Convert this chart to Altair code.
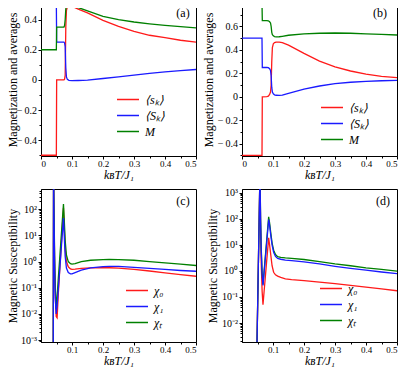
import altair as alt
import pandas as pd

SERIF = "Liberation Serif"
RED, BLUE, GREEN = "#ff1a1a", "#1a1aff", "#008000"

# ---------------- panel (a) ----------------
a_x = [0.0, 0.0495, 0.0505, 0.074, 0.076, 0.078, 0.080, 0.082, 0.085, 0.09, 0.1, 0.12,
       0.15, 0.2, 0.25, 0.3, 0.35, 0.4, 0.45, 0.5]
a_s = [-0.5, -0.5, 0.0, 0.0, 0.005, 0.03, 0.35, 0.46, 0.485, 0.492, 0.488, 0.47,
       0.445, 0.395, 0.355, 0.322, 0.296, 0.28, 0.263, 0.25]
a_S = [0.5, 0.5, 0.25, 0.25, 0.245, 0.22, 0.08, 0.02, 0.003, -0.003, -0.005, -0.004,
       -0.002, 0.009, 0.02, 0.031, 0.043, 0.053, 0.062, 0.069]
a_M = [0.2, 0.2, 0.35, 0.35, 0.36, 0.40, 0.47, 0.49, 0.495, 0.497, 0.493, 0.48,
       0.458, 0.422, 0.4, 0.384, 0.372, 0.362, 0.353, 0.345]

# ---------------- panel (b) ----------------
b_x = [0.0, 0.0645, 0.0655, 0.080, 0.085, 0.089, 0.092, 0.094, 0.096, 0.098, 0.101, 0.105,
       0.11, 0.12, 0.13, 0.15, 0.2, 0.25, 0.3, 0.35, 0.4, 0.45, 0.5]
b_s = [-0.5, -0.5, 0.0, 0.002, 0.006, 0.02, 0.04, 0.1, 0.3, 0.42, 0.452, 0.462,
       0.466, 0.466, 0.462, 0.44, 0.37, 0.305, 0.255, 0.22, 0.193, 0.175, 0.164]
b_S = [0.5, 0.5, 0.25, 0.25, 0.248, 0.24, 0.225, 0.18, 0.08, 0.04, 0.025, 0.017,
       0.013, 0.012, 0.015, 0.03, 0.065, 0.092, 0.112, 0.124, 0.132, 0.137, 0.14]
b_M = [0.8, 0.8, 0.65, 0.65, 0.648, 0.64, 0.63, 0.6, 0.55, 0.53, 0.52, 0.514,
       0.511, 0.512, 0.516, 0.525, 0.537, 0.542, 0.544, 0.542, 0.537, 0.532, 0.527]

# ---------------- panel (c)  (log10 of susceptibility) ----------------
c_x = [0.01, 0.035, 0.0395, 0.0405, 0.042, 0.044, 0.046, 0.049, 0.052, 0.056, 0.060,
       0.064, 0.068, 0.0725, 0.075, 0.078, 0.082, 0.088, 0.095, 0.1, 0.11, 0.13, 0.16,
       0.2, 0.22, 0.25, 0.3, 0.35, 0.4, 0.45, 0.5]
c_chi0 = [-9, -5, -3.5, 3.5, 1.8, -0.1, -1.3, -2.1, -2.15, -1.2, -0.42, 0.37, 1.16, 2.04,
          1.3, 0.5, 0.0, -0.2, -0.28, -0.3, -0.29, -0.26, -0.24, -0.23, -0.235, -0.25,
          -0.3, -0.36, -0.43, -0.5, -0.56]
c_chi1 = [-9, -5, -3.5, 3.5, 1.7, -0.3, -1.4, -2.0, -1.68, -1.03, -0.38, 0.27, 0.93, 1.66,
          1.0, 0.2, -0.25, -0.42, -0.47, -0.47, -0.42, -0.33, -0.24, -0.19, -0.18, -0.185,
          -0.22, -0.26, -0.3, -0.34, -0.37]
c_chit = [-9, -5, -3.5, 3.5, 2.0, 0.2, -1.0, -1.82, -1.31, -0.62, 0.06, 0.75, 1.43, 2.2,
          1.6, 0.8, 0.25, 0.0, -0.08, -0.1, -0.08, 0.0, 0.05, 0.075, 0.08, 0.075, 0.05,
          0.0, -0.05, -0.1, -0.15]

# ---------------- panel (d)  (log10 of susceptibility) ----------------
d_x = [0.01, 0.04, 0.047, 0.058, 0.060, 0.062, 0.065, 0.0677, 0.071, 0.075, 0.079, 0.083,
       0.086, 0.089, 0.093, 0.097, 0.102, 0.108, 0.115, 0.125, 0.14, 0.16, 0.2, 0.25, 0.3,
       0.35, 0.4, 0.45, 0.5]
d_chi0 = [-9, -5, -3.7, 3.8, 1.6, 0.3, -0.8, -1.3, -0.83, -0.27, 0.3, 0.85, 1.27, 1.0, 0.6,
          0.2, -0.05, -0.15, -0.2, -0.25, -0.3, -0.33, -0.37, -0.43, -0.49, -0.55, -0.62,
          -0.69, -0.76]
d_chi1 = [-9, -5, -3.7, 3.8, 1.9, 0.8, -0.15, -0.56, -0.1, 0.45, 1.0, 1.55, 1.98, 1.75,
          1.35, 1.0, 0.72, 0.56, 0.48, 0.45, 0.42, 0.40, 0.35, 0.27, 0.18, 0.1, 0.03,
          -0.04, -0.1]
d_chit = [-9, -5, -3.7, 3.8, 2.0, 0.9, -0.1, -0.52, -0.05, 0.52, 1.09, 1.66, 2.08, 1.85,
          1.45, 1.08, 0.8, 0.63, 0.55, 0.52, 0.5, 0.48, 0.44, 0.36, 0.27, 0.2, 0.12, 0.06,
          -0.01]

MAG_NAMES = ["⟨sₖ⟩", "⟨Sₖ⟩", "M"]
CHI_NAMES = ["χ₀", "χ₁", "χₜ"]
COLORS = [RED, BLUE, GREEN]

# tick positions
X_MAJOR_AB = [0, 0.1, 0.2, 0.3, 0.4, 0.5]
X_MAJOR_CD = [0.1, 0.2, 0.3, 0.4, 0.5]
X_MINOR = [0.05, 0.15, 0.25, 0.35, 0.45]
A_Y_MAJOR = [-0.4, -0.2, 0, 0.2, 0.4]
A_Y_MINOR = [-0.5, -0.3, -0.1, 0.1, 0.3, 0.5]
B_Y_MAJOR = [-0.4, -0.2, 0, 0.2, 0.4, 0.6, 0.8]
B_Y_MINOR = [-0.5, -0.3, -0.1, 0.1, 0.3, 0.5, 0.7]
C_Y_MAJOR = [0.001, 0.01, 0.1, 1, 10, 100]
D_Y_MAJOR = [0.01, 0.1, 1, 10, 100, 1000]
LOG_MINOR = [m * 10.0 ** k for k in range(-4, 4) for m in (2, 3, 4, 5, 6, 7, 8, 9)]

SUP = {-3: "⁻³", -2: "⁻²", -1: "⁻¹", 0: "⁰", 1: "¹", 2: "²", 3: "³"}
E = "round(log(datum.value)/LN10)"
LOG_LABEL = "".join(f"{E}=={k}?'10{v}':" for k, v in SUP.items()) + "''"
LIN_LABEL = ("datum.value<0?'−\u2009'+format(-datum.value,'.1f'):"
             "(datum.value==0?'0':format(datum.value,'.1f'))")

W, H = 155, 153


def long_df(x, ys, names, order, log=False):
    rows = []
    for name in order:
        y = ys[names.index(name)]
        for xi, yi in zip(x, y):
            rows.append({"x": xi, "y": (10.0 ** yi) if log else yi, "series": name})
    return pd.DataFrame(rows)


def panel(df, names, ydomain, ylog, yvals, yminor, ytitle, ytitle_x, xvals, leg_xy,
          label, lab_xy):
    yminor = [v for v in yminor if ydomain[0] <= v <= ydomain[1]]
    xscale = alt.Scale(domain=[0, 0.5], nice=False, zero=False)
    yscale = (alt.Scale(type="log", domain=ydomain, nice=False) if ylog
              else alt.Scale(domain=ydomain, nice=False, zero=False))
    xaxis = alt.Axis(values=xvals, labelExpr="datum.value==0?'0':format(datum.value,'.1f')",
                     title="kʙT/J₁", titleFontStyle="italic", titleFontSize=12,
                     titleFontWeight="normal", titleY=13.5, titleBaseline="top",
                     tickSize=3, labelPadding=0, labelFontSize=9, labelFont=SERIF,
                     orient="bottom")
    yaxis = alt.Axis(values=yvals, labelExpr=LOG_LABEL if ylog else LIN_LABEL,
                     title=ytitle, titleFontSize=12, titleFontWeight="normal",
                     titleX=ytitle_x, titleBaseline="middle",
                     tickSize=3, labelPadding=1.5, labelFontSize=10, labelFont=SERIF,
                     orient="left")
    lines = alt.Chart(df).mark_line(strokeWidth=1.3, clip=True).encode(
        x=alt.X("x:Q", scale=xscale, axis=xaxis),
        y=alt.Y("y:Q", scale=yscale, axis=yaxis),
        color=alt.Color("series:N", scale=alt.Scale(domain=names, range=COLORS),
                        legend=alt.Legend(orient="none", legendX=leg_xy[0], legendY=leg_xy[1],
                                          title=None, symbolType="M-1,0H3", symbolSize=121,
                                          symbolStrokeWidth=1.5, labelFont=SERIF,
                                          labelFontSize=12, labelFontStyle="italic",
                                          labelOffset=16, rowPadding=3, padding=0)),
    )
    minor = alt.Chart(df).mark_point(opacity=0, clip=True).encode(
        x=alt.X("x:Q", scale=xscale,
                axis=alt.Axis(values=X_MINOR, labels=False, tickSize=2, domain=False,
                              title=None, orient="bottom", grid=False)),
        y=alt.Y("y:Q", scale=yscale,
                axis=alt.Axis(values=yminor, labels=False, tickSize=2, domain=False,
                              title=None, orient="left", grid=False)),
    )
    txt = alt.Chart(pd.DataFrame({"t": [label]})).mark_text(
        font=SERIF, fontSize=12, align="center", baseline="middle", color="black"
    ).encode(x=alt.value(lab_xy[0]), y=alt.value(lab_xy[1]), text="t:N")
    return alt.layer(lines, minor, txt).resolve_axis(
        x="independent", y="independent").properties(width=W, height=H)


MAG_ORDER = MAG_NAMES
CHI_ORDER = ["χ₀", "χₜ", "χ₁"]

pa = panel(long_df(a_x, [a_s, a_S, a_M], MAG_NAMES, MAG_ORDER), MAG_NAMES, [-0.505, 0.51],
           False, A_Y_MAJOR, A_Y_MINOR, "Magnetization and averages", -29,
           X_MAJOR_AB, (75, 90), "(a)", (142, 10))
pb = panel(long_df(b_x, [b_s, b_S, b_M], MAG_NAMES, MAG_ORDER), MAG_NAMES, [-0.505, 0.8],
           False, B_Y_MAJOR, B_Y_MINOR, "Magnetization and averages", -34,
           X_MAJOR_AB, (78, 98), "(b)", (138, 10))
pc = panel(long_df(c_x, [c_chi0, c_chi1, c_chit], CHI_NAMES, CHI_ORDER, log=True), CHI_NAMES,
           [10 ** -3.07, 10 ** 2.77], True, C_Y_MAJOR, LOG_MINOR,
           "Magnetic Susceptibility", -29, X_MAJOR_CD, (84, 95), "(c)", (142, 12))
pd_ = panel(long_df(d_x, [d_chi0, d_chi1, d_chit], CHI_NAMES, CHI_ORDER, log=True), CHI_NAMES,
            [10 ** -2.73, 10 ** 3.15], True, D_Y_MAJOR, LOG_MINOR,
            "Magnetic Susceptibility", -30, X_MAJOR_CD, (77, 93), "(d)", (141, 12))

chart = alt.concat(pa, pb, pc, pd_, columns=2, spacing={"row": 33, "column": 46},
                   bounds="flush").resolve_scale(
    color="independent", x="independent", y="independent").resolve_legend(
    color="independent").properties(
    padding={"left": -3, "top": -11, "right": 0, "bottom": 0}, background="white"
).configure_view(stroke="black", strokeWidth=1).configure_axis(
    grid=False, domainColor="black", tickColor="black", labelColor="black",
    titleColor="black", labelFont=SERIF, titleFont=SERIF, domainWidth=1, tickWidth=1
)

chart.save("out.html", embed_options={"renderer": "svg", "actions": False})
